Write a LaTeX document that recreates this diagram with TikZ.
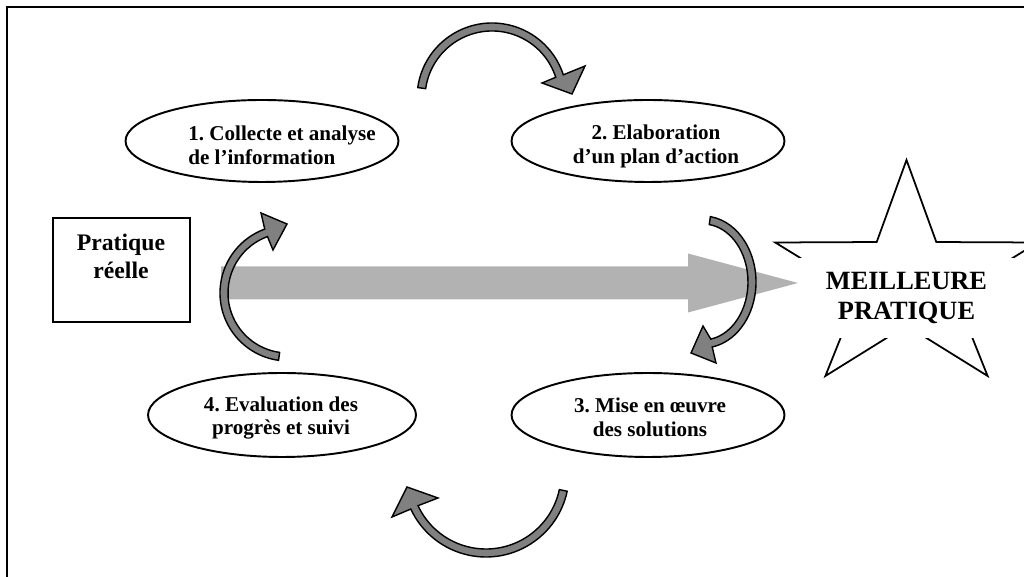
\documentclass[tikz,border=0pt]{standalone}
\usepackage{fontspec}
\setmainfont{Liberation Serif}
\usetikzlibrary{calc,shapes.geometric}
\frenchspacing

\begin{document}
\begin{tikzpicture}[x=0.02cm, y=0.02cm,
  phase/.style={draw, ellipse, line width=1.1pt, minimum width=5.46cm, minimum height=1.64cm, inner sep=0pt},
  phasetext/.style={font=\bfseries\fontsize{12}{13.6}\selectfont, align=center, inner sep=0pt},
  cyclearrow/.style={fill=black!50, draw=black, line width=0.8pt, line join=miter},
  progress/.style={fill=black!30}]
% canvas and outer frame
\useasboundingbox (0,0) rectangle (1024,577);
\clip (0,0) rectangle (1024,577);
\draw[line width=1.6pt] (7,-20) rectangle (1060,570);

% star with its text box
\coordinate (S) at (906.5,297.6);
\draw[line width=1pt, line join=miter, shift={(S)}] (0,119.4) \foreach \k in {0,...,3} { -- ({50.7*cos(126+72*\k)},{46.2*sin(126+72*\k)}) -- ({138*cos(162+72*\k)},{119.4*sin(162+72*\k)})} -- ({50.7*cos(54)},{46.2*sin(54)}) -- cycle;
\node[fill=white, inner sep=0pt, minimum width=4.32cm, minimum height=1.6cm, font=\bfseries\fontsize{15}{17}\selectfont, align=center] (best) at (906.5,279) {MEILLEURE\\PRATIQUE};

% starting point
\node[draw, line width=1pt, minimum width=2.74cm, minimum height=2.08cm] (real) at (121.5,307) {};
\node[inner sep=0pt, font=\bfseries\fontsize{13.5}{15.9}\selectfont, align=center] (realtext) at (121,320.6) {Pratique\\réelle};

% big grey arrow
\coordinate (s) at (221,294);
\coordinate (h) at (688,294);
\coordinate (t) at (798,294);
\fill[progress] ($(s)+(0,16.5)$) -- ($(h)+(0,16.5)$) -- ($(h)+(0,29.5)$) -- (t) -- ($(h)+(0,-29.5)$) -- ($(h)+(0,-16.5)$) -- ($(s)+(0,-16.5)$) -- cycle;

% the four phases
\node[phase] (e1) at (262,436) {};
\node[phase] (e2) at (648,436) {};
\node[phase, minimum height=1.68cm] (e3) at (648,162) {};
\node[phase, minimum width=5.36cm, minimum height=1.68cm] (e4) at (282,162) {};
\node[phasetext, align=left] (t1) at (282,432) {1. Collecte et analyse\\de l’information};
\node[phasetext] (t2) at (656,431) {2. Elaboration\\d’un plan d’action};
\node[phasetext] (t3) at (650,160) {3. Mise en œuvre\\des solutions};
\node[phasetext] (t4) at (281,159) {4. Evaluation des\\progrès et suivi};

% curved arrows of the cycle
\coordinate (cA) at (492,479);
\filldraw[cyclearrow] ($(cA)+(172:75)$) arc[start angle=172, end angle=18, radius=75] -- (585,511) -- (572,483) -- (542,494) -- ($(cA)+(18:67)$) arc[start angle=18, end angle=172, radius=67] -- cycle;
\coordinate (cB) at (703,295);
\filldraw[cyclearrow] ($(cB)+({53*cos(82)},{66*sin(82)})$) arc[start angle=82, end angle=-80, x radius=53, y radius=66] -- (716,214) -- (691,224) -- (703,251) -- ($(cB)+({45*cos(-80)},{58*sin(-80)})$) arc[start angle=-80, end angle=82, x radius=45, y radius=58] -- cycle;
\coordinate (cD) at (486,103);
\filldraw[cyclearrow] ($(cD)+(-12:83)$) arc[start angle=-12, end angle=-155, radius=83] -- (392,60) -- (407,90) -- (438,79) -- ($(cD)+(-155:75)$) arc[start angle=-155, end angle=-12, radius=75] -- cycle;
\coordinate (cC) at (288,284);
\filldraw[cyclearrow] ($(cC)+(262:68)$) arc[start angle=262, end angle=110, radius=68] -- (261,364) -- (287,353) -- (273,327) -- ($(cC)+(110:60)$) arc[start angle=110, end angle=262, radius=60] -- cycle;
\end{tikzpicture}
\end{document}
